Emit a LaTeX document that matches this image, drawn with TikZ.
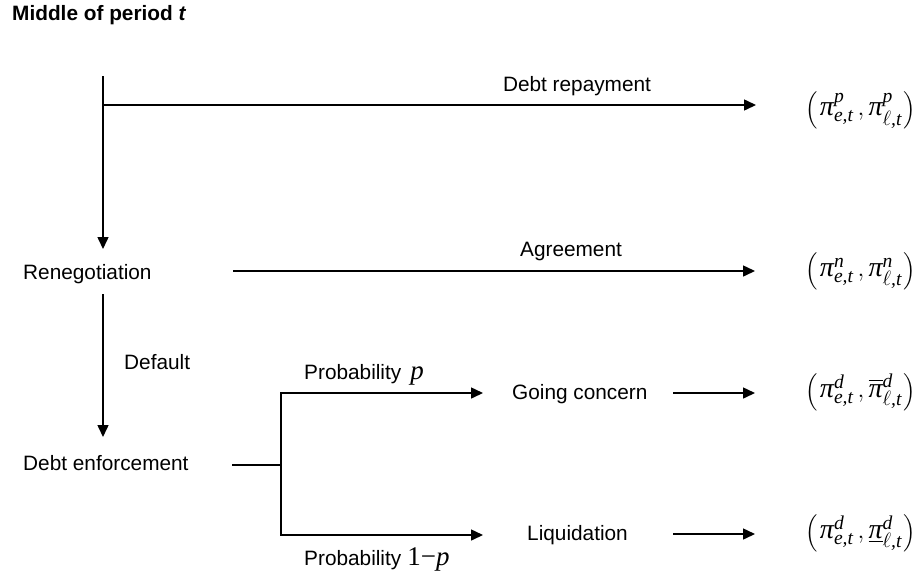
\documentclass[tikz,border=0pt]{standalone}
\usepackage{amsmath}
\usepackage{fontspec}
\setmainfont{Liberation Sans}
\newfontfamily\tms{Liberation Serif}
\usetikzlibrary{arrows.meta}
\newcommand\mv[1]{\text{\tms\itshape #1}}
\newcommand\parsz{\fontsize{22.8}{27.4}\selectfont}
\newcommand\payoff[2]{{\parsz$\Bigl($}\,{\fontsize{28}{32}\selectfont$\mv{π}^{\mv{#1}}_{\mv{e,t}}\,,#2{\mv{π}}^{\mv{#1}}_{\ell\mv{,t}}$}\,{\parsz$\Bigr)$}}
\begin{document}
\begin{tikzpicture}[x=1pt,y=-1pt,
  ln/.style={line width=1.5pt},
  arr/.style={ln,-{Triangle[length=12pt,width=11pt]}},
  txt/.style={inner sep=0pt,font=\fontsize{20.8}{25}\selectfont},
  pay/.style={inner sep=0pt}]
\useasboundingbox (0,0) rectangle (923,579);

% texts
\node[txt,anchor=west,font=\fontsize{20.8}{25}\selectfont\bfseries] (title) at (12,15) {Middle of period \textit{t}};
\node[txt,anchor=base west] (reneg) at (23,279) {Renegotiation};
\node[txt,anchor=base west] (enf) at (23,470) {Debt enforcement};
\node[txt,anchor=base] (rep) at (577,91) {Debt repayment};
\node[txt,anchor=base] (agr) at (571,256) {Agreement};
\node[txt,anchor=base west] (def) at (124,369) {Default};
\node[txt,anchor=base west] (gc) at (512,399) {Going concern};
\node[txt,anchor=base west] (liq) at (527,540) {Liquidation};
\node[txt,anchor=base west] (pp) at (304,379) {Probability\hspace{9pt}{\tms\itshape\fontsize{27}{30}\selectfont p}};
\node[txt,anchor=base west] (pq) at (304,565) {Probability\hspace{6pt}{\tms\fontsize{27}{30}\selectfont 1−{\itshape p}}};

% payoffs
\node[pay] (p1) at (861,110) {\payoff{p}{}};
\node[pay] (p2) at (861,271) {\payoff{n}{}};
\node[pay] (p3) at (861,392) {\payoff{d}{\overline}};
\node[pay] (p4) at (861,533) {\payoff{d}{\underline}};

% connector points
\coordinate (a0) at (103,76);
\coordinate (a1) at (103,105);
\coordinate (a2) at (756,105);
\coordinate (a3) at (103,249);
\coordinate (b1) at (233,271);
\coordinate (b2) at (755,271);
\coordinate (c1) at (103,294);
\coordinate (c2) at (103,437);
\coordinate (d1) at (232,465);
\coordinate (d2) at (281,465);
\coordinate (d5) at (483,393);
\coordinate (d6) at (483,535);
\coordinate (g1) at (673,393);
\coordinate (g2) at (755,393);
\coordinate (h1) at (673,534);
\coordinate (h2) at (755,534);

\draw[arr] (a0) -- (a3);
\draw[arr] (a1) -- (a2);
\draw[arr] (b1) -- (b2);
\draw[arr] (c1) -- (c2);
\draw[ln] (d1) -- (d2);
\draw[arr] (d2) |- (d5);
\draw[arr] (d2) |- (d6);
\draw[arr] (g1) -- (g2);
\draw[arr] (h1) -- (h2);
\end{tikzpicture}
\end{document}
